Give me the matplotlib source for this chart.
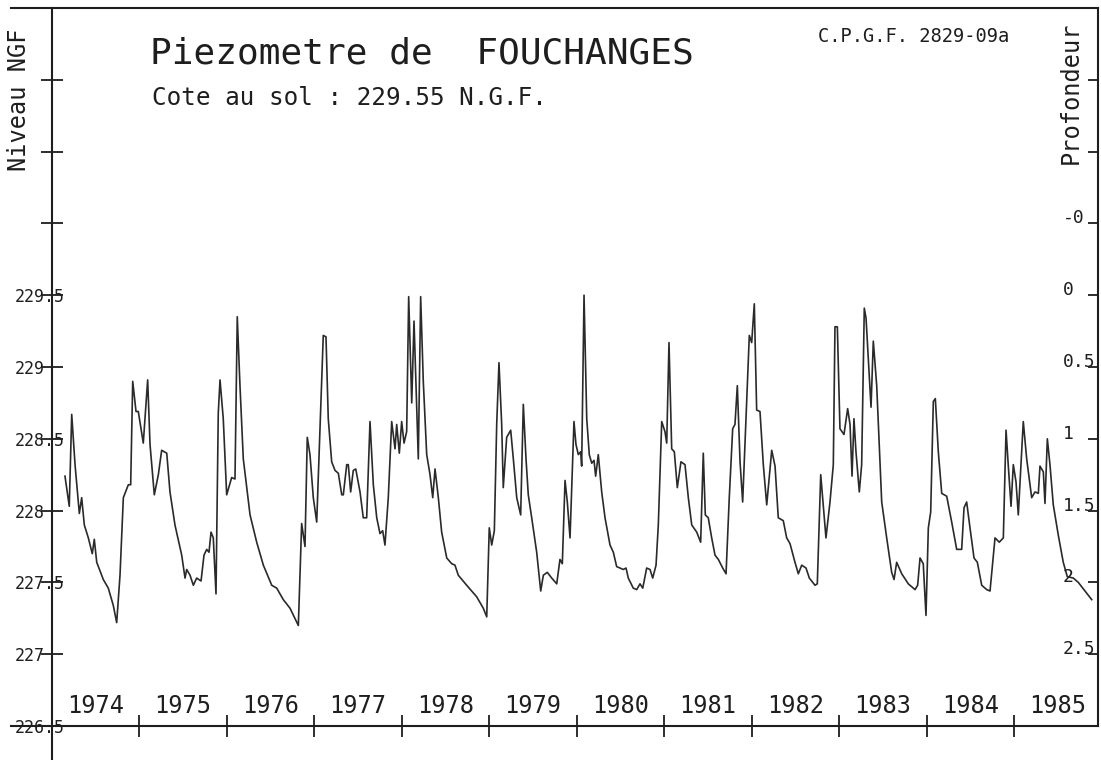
import matplotlib
matplotlib.use("Agg")
import matplotlib.pyplot as plt

# ---------------- data ----------------
GROUND_LEVEL = 229.55  # Cote au sol (N.G.F.)

years = [
    1974.154, 1974.203, 1974.231, 1974.269, 1974.318, 1974.345, 1974.375, 1974.421, 1974.466, 1974.489,
    1974.517, 1974.592, 1974.649, 1974.706, 1974.745, 1974.783, 1974.821, 1974.878, 1974.905, 1974.928,
    1974.966, 1974.992, 1975.049, 1975.099, 1975.126, 1975.175, 1975.221, 1975.259, 1975.317, 1975.354,
    1975.411, 1975.488, 1975.526, 1975.545, 1975.583, 1975.621, 1975.659, 1975.709, 1975.743, 1975.774,
    1975.800, 1975.823, 1975.849, 1975.880, 1975.906, 1975.926, 1975.963, 1976.002, 1976.059, 1976.097,
    1976.123, 1976.154, 1976.192, 1976.269, 1976.345, 1976.421, 1976.517, 1976.574, 1976.649, 1976.726,
    1976.821, 1976.859, 1976.897, 1976.923, 1976.954, 1976.992, 1977.031, 1977.106, 1977.137, 1977.163,
    1977.202, 1977.240, 1977.278, 1977.317, 1977.335, 1977.374, 1977.392, 1977.419, 1977.449, 1977.477,
    1977.526, 1977.563, 1977.602, 1977.640, 1977.678, 1977.717, 1977.754, 1977.785, 1977.811, 1977.849,
    1977.888, 1977.926, 1977.945, 1977.975, 1978.002, 1978.029, 1978.059, 1978.082, 1978.117, 1978.143,
    1978.166, 1978.192, 1978.219, 1978.249, 1978.288, 1978.326, 1978.357, 1978.383, 1978.421, 1978.459,
    1978.517, 1978.574, 1978.611, 1978.649, 1978.745, 1978.859, 1978.935, 1978.974, 1979.003, 1979.031,
    1979.061, 1979.088, 1979.114, 1979.145, 1979.163, 1979.202, 1979.248, 1979.278, 1979.317, 1979.362,
    1979.392, 1979.423, 1979.449, 1979.488, 1979.545, 1979.591, 1979.621, 1979.666, 1979.717, 1979.774,
    1979.811, 1979.838, 1979.869, 1979.895, 1979.926, 1979.971, 1979.994, 1980.021, 1980.048, 1980.059,
    1980.086, 1980.117, 1980.146, 1980.174, 1980.200, 1980.219, 1980.249, 1980.288, 1980.326, 1980.383,
    1980.421, 1980.459, 1980.535, 1980.566, 1980.592, 1980.649, 1980.688, 1980.726, 1980.757, 1980.802,
    1980.840, 1980.871, 1980.909, 1980.935, 1980.974, 1981.011, 1981.031, 1981.057, 1981.088, 1981.118,
    1981.152, 1981.194, 1981.240, 1981.278, 1981.317, 1981.374, 1981.419, 1981.449, 1981.472, 1981.506,
    1981.545, 1981.583, 1981.621, 1981.671, 1981.709, 1981.746, 1981.785, 1981.811, 1981.838, 1981.869,
    1981.899, 1981.934, 1981.975, 1982.002, 1982.032, 1982.059, 1982.097, 1982.135, 1982.174, 1982.231,
    1982.269, 1982.306, 1982.363, 1982.402, 1982.440, 1982.497, 1982.535, 1982.574, 1982.623, 1982.661,
    1982.726, 1982.752, 1982.791, 1982.851, 1982.897, 1982.935, 1982.954, 1982.981, 1983.011, 1983.057,
    1983.099, 1983.126, 1983.149, 1983.171, 1983.194, 1983.232, 1983.259, 1983.289, 1983.309, 1983.366,
    1983.392, 1983.431, 1983.488, 1983.545, 1983.602, 1983.629, 1983.659, 1983.717, 1983.792, 1983.869,
    1983.899, 1983.926, 1983.963, 1983.994, 1984.021, 1984.048, 1984.078, 1984.101, 1984.135, 1984.174,
    1984.231, 1984.288, 1984.345, 1984.402, 1984.429, 1984.459, 1984.497, 1984.543, 1984.581, 1984.631,
    1984.688, 1984.726, 1984.783, 1984.832, 1984.878, 1984.909, 1984.935, 1984.966, 1984.992, 1985.023,
    1985.049, 1985.106, 1985.145, 1985.202, 1985.240, 1985.278, 1985.297, 1985.335, 1985.354, 1985.381,
    1985.411, 1985.449, 1985.506, 1985.563, 1985.609, 1985.678, 1985.735, 1985.811, 1985.888,
]

levels = [
    228.24, 228.03, 228.67, 228.32, 227.98, 228.09, 227.90, 227.81, 227.70, 227.80,
    227.64, 227.52, 227.46, 227.34, 227.22, 227.55, 228.09, 228.18, 228.18, 228.90,
    228.69, 228.69, 228.47, 228.91, 228.46, 228.11, 228.25, 228.42, 228.40, 228.13,
    227.90, 227.69, 227.53, 227.59, 227.55, 227.48, 227.53, 227.51, 227.69, 227.73,
    227.71, 227.85, 227.81, 227.42, 228.68, 228.91, 228.64, 228.11, 228.23, 228.22,
    229.35, 228.87, 228.36, 227.97, 227.78, 227.62, 227.48, 227.46, 227.38, 227.32,
    227.20, 227.91, 227.75, 228.51, 228.39, 228.09, 227.92, 229.22, 229.21, 228.64,
    228.34, 228.28, 228.26, 228.11, 228.11, 228.32, 228.32, 228.13, 228.28, 228.29,
    228.13, 227.95, 227.95, 228.62, 228.18, 227.95, 227.84, 227.86, 227.76, 228.09,
    228.62, 228.43, 228.60, 228.40, 228.62, 228.47, 228.55, 229.49, 228.75, 229.32,
    228.87, 228.36, 229.49, 228.90, 228.39, 228.25, 228.09, 228.29, 228.09, 227.85,
    227.67, 227.63, 227.62, 227.55, 227.48, 227.40, 227.32, 227.26, 227.88, 227.76,
    227.86, 228.60, 229.03, 228.60, 228.16, 228.51, 228.56, 228.36, 228.09, 227.97,
    228.74, 228.36, 228.11, 227.95, 227.71, 227.44, 227.55, 227.57, 227.53, 227.49,
    227.66, 227.63, 228.21, 228.06, 227.81, 228.62, 228.46, 228.39, 228.41, 228.31,
    229.50, 228.64, 228.39, 228.33, 228.35, 228.24, 228.39, 228.13, 227.95, 227.76,
    227.71, 227.61, 227.59, 227.60, 227.53, 227.46, 227.45, 227.49, 227.46, 227.60,
    227.59, 227.53, 227.62, 227.90, 228.62, 228.55, 228.47, 229.17, 228.43, 228.41,
    228.16, 228.34, 228.32, 228.09, 227.90, 227.85, 227.78, 228.40, 227.97, 227.95,
    227.81, 227.69, 227.66, 227.60, 227.56, 228.09, 228.57, 228.60, 228.87, 228.34,
    228.06, 228.60, 229.22, 229.17, 229.44, 228.70, 228.69, 228.32, 228.04, 228.42,
    228.31, 227.95, 227.93, 227.81, 227.77, 227.64, 227.56, 227.62, 227.60, 227.53,
    227.48, 227.49, 228.25, 227.81, 228.06, 228.32, 229.28, 229.28, 228.57, 228.53,
    228.71, 228.60, 228.24, 228.64, 228.41, 228.13, 228.32, 229.41, 229.34, 228.72,
    229.18, 228.87, 228.06, 227.81, 227.57, 227.52, 227.64, 227.56, 227.49, 227.45,
    227.48, 227.67, 227.63, 227.27, 227.88, 227.99, 228.76, 228.78, 228.41, 228.12,
    228.10, 227.92, 227.73, 227.73, 228.02, 228.06, 227.88, 227.67, 227.64, 227.48,
    227.45, 227.44, 227.81, 227.78, 227.81, 228.56, 228.31, 228.03, 228.32, 228.20,
    227.97, 228.62, 228.36, 228.09, 228.13, 228.12, 228.31, 228.27, 228.05, 228.50,
    228.32, 228.04, 227.83, 227.64, 227.54, 227.53, 227.50, 227.44, 227.38,
]

level_ticks = [226.5, 227.0, 227.5, 228.0, 228.5, 229.0, 229.5, 230.0, 230.5, 231.0]
left_tick_labels = ["226.5", "227", "227.5", "228", "228.5", "229", "229.5", "", "", ""]
right_tick_labels = ["", "2.5", "2", "1.5", "1", "0.5", "0", "-0", "", ""]
year_ticks = [1975, 1976, 1977, 1978, 1979, 1980, 1981, 1982, 1983, 1984, 1985]
year_labels = ["1974", "1975", "1976", "1977", "1978", "1979", "1980",
               "1981", "1982", "1983", "1984", "1985"]
year_label_pos = [1974.5 + i for i in range(len(year_labels))]

X_START, X_END = 1974.0, 1985.96
Y_MIN, Y_MAX = 226.5, 231.5

# ---------------- style ----------------
MONO = "DejaVu Sans Mono"
INK = "#1e1e1e"
W, H = 1101, 760


def fx(px):
    return px / W


def fy(py):
    return 1 - py / H


fig = plt.figure(figsize=(W / 100, H / 100), dpi=100)
fig.patch.set_facecolor("white")

ax = fig.add_axes([fx(51.5), fy(726), (1098 - 51.5) / W, (726 - 8) / H])
ax.plot(years, levels, color="#2a2a2a", lw=1.2)
ax.set_xlim(X_START, X_END)
ax.set_ylim(Y_MIN, Y_MAX)
for s in ax.spines.values():
    s.set_visible(False)

# frame lines (extending past the axes like the plotter output)
frame_kw = dict(transform=ax.transAxes, clip_on=False, color=INK, lw=1.5)
ax.plot([0, 0], [(726 - 760) / 718, 1], **frame_kw)
ax.plot([(11 - 51.5) / 1046.5, 1], [1, 1], **frame_kw)
ax.plot([(11 - 51.5) / 1046.5, 1], [0, 0], **frame_kw)
ax.plot([1, 1], [0, 1], **frame_kw)

# left axis: levels
ax.set_yticks(level_ticks)
ax.set_yticklabels(left_tick_labels, fontfamily=MONO, fontsize=12, color=INK)
ax.tick_params(axis="y", which="major", direction="inout", length=16.5,
               width=1.3, color=INK, pad=18)
plt.setp(ax.get_yticklabels(), ha="left")

# bottom axis: years
ax.set_xticks(year_ticks)
ax.set_xticklabels([""] * len(year_ticks))
ax.set_xticks(year_label_pos, minor=True)
ax.set_xticklabels(year_labels, minor=True, fontfamily=MONO, fontsize=17, color=INK)
ax.tick_params(axis="x", which="major", direction="inout", length=16,
               width=1.3, color=INK)
ax.tick_params(axis="x", which="minor", length=0, pad=-9.5)
plt.setp(ax.get_xticklabels(minor=True), va="baseline")

# right axis: depth below ground
ax2 = ax.twinx()
ax2.set_ylim(Y_MIN, Y_MAX)
for s in ax2.spines.values():
    s.set_visible(False)
ax2.set_yticks(level_ticks)
ax2.set_yticklabels(right_tick_labels, fontfamily=MONO, fontsize=13, color=INK)
ax2.tick_params(axis="y", which="major", direction="in", length=7,
                width=1.3, color=INK, pad=-25.2)
plt.setp(ax2.get_yticklabels(), ha="left", va="baseline")

# texts
fig.text(fx(150), fy(63), "Piezometre de  FOUCHANGES", fontfamily=MONO,
         fontsize=26, color=INK, va="baseline")
fig.text(fx(152), fy(105), f"Cote au sol : {GROUND_LEVEL:.2f} N.G.F.",
         fontfamily=MONO, fontsize=17.5, color=INK, va="baseline")
fig.text(fx(818), fy(42), "C.P.G.F. 2829-09a", fontfamily=MONO,
         fontsize=13.5, color=INK, va="baseline")
fig.text(fx(1071), fy(93), "Profondeur", rotation=90, ha="center", va="center",
         fontfamily=MONO, fontsize=17, color=INK)
fig.text(fx(19), fy(100), "Niveau NGF", rotation=90, ha="center", va="center",
         fontfamily=MONO, fontsize=17, color=INK)

fig.savefig("out.png", dpi=100)
